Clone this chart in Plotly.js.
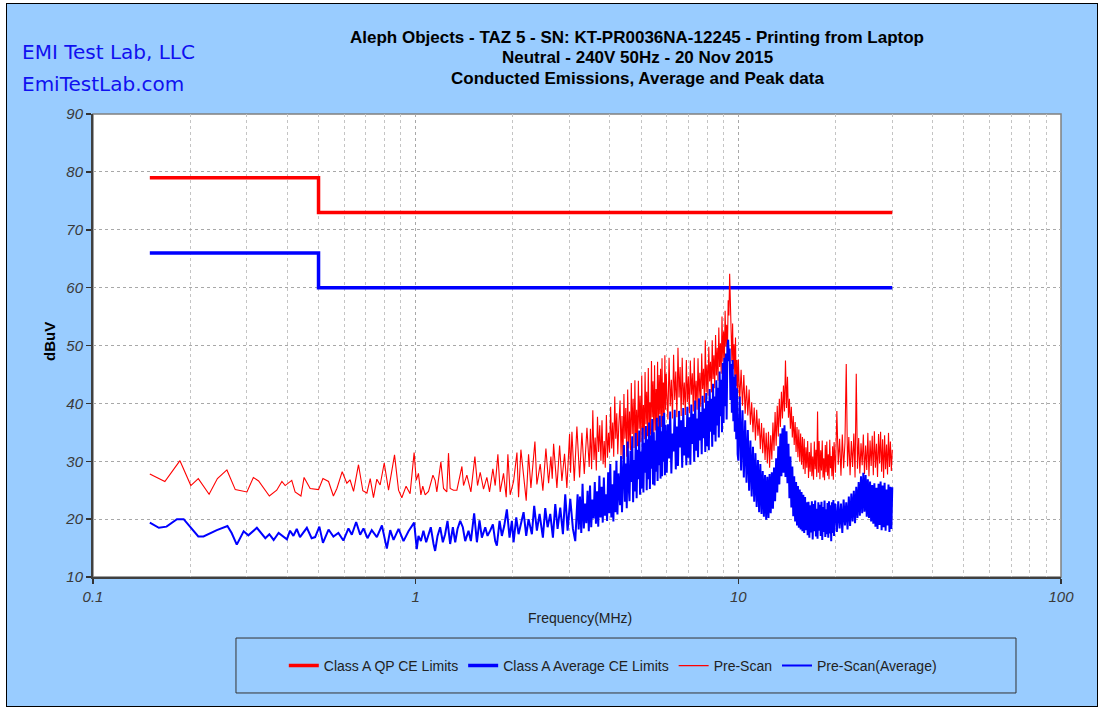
<!DOCTYPE html>
<html><head><meta charset="utf-8">
<script src="https://cdn.plot.ly/plotly-3.0.1.min.js"></script>
<style>
html,body{margin:0;padding:0;background:#fff;width:1098px;height:707px;overflow:hidden;}
#chart{position:absolute;left:6px;top:3px;width:1090px;height:702px;border:1px solid #000;}
</style></head><body><div id="chart"></div><script>
// ---- data (MHz, dBuV) ----
var limitFreq = [0.15, 0.5, 0.5, 30];
var qpLimit = [79, 79, 73, 73];
var avgLimit = [66, 66, 60, 60];

// 0.15 - 4.3 MHz, read point by point
var peakFreqA = [0.150,0.167,0.186,0.201,0.212,0.229,0.243,0.260,0.276,0.300,0.314,0.326,0.352,0.371,0.385,0.394,0.413,0.423,0.441,0.451,0.471,0.500,0.516,0.537,0.556,0.570,0.592,0.612,0.626,0.642,0.665,0.686,0.706,0.723,0.740,0.758,0.776,0.799,0.824,0.860,0.885,0.906,0.934,0.961,0.989,
1.004,1.020,1.038,1.052,1.070,1.096,1.131,1.149,1.163,1.197,1.220,1.249,1.264,1.279,1.310,1.342,1.391,1.407,1.441,1.483,1.526,1.555,1.585,1.623,1.662,1.694,1.735,1.764,1.798,1.828,1.872,1.908,1.931,1.963,2.011,2.060,2.084,2.119,2.170,2.201,2.238,2.276,2.342,2.375,2.432,2.479,2.533,2.582,2.625,2.650,2.676,2.740,2.793,2.839,2.893,2.942,2.999,3.020,3.050,3.101,3.160,3.221,3.275,3.331,3.395,
3.45,3.48,3.51,3.54,3.57,3.60,3.63,3.66,3.69,3.72,3.75,3.78,3.81,3.84,3.87,3.90,3.93,3.96,3.99,4.02,4.05,4.08,4.11,4.14,4.17,4.20,4.23,4.26];
var peakValA = [27.8,26.5,30.1,25.8,27.0,24.3,27.0,28.5,25.1,24.7,27.2,26.6,24.0,25.0,26.5,25.8,26.7,24.7,24.0,27.2,25.3,25.1,27.0,26.5,24.0,25.3,28.2,26.2,26.8,24.8,29.4,24.9,24.5,27.0,23.7,26.9,25.9,29.7,25.0,31.1,25.0,23.7,25.7,24.4,31.5,
26.7,27.9,24.2,25.7,24.2,24.8,27.6,26.7,24.7,29.9,25.3,24.7,31.4,25.3,25.0,25.0,29.1,25.8,27.6,24.7,30.8,25.8,28.1,25.2,27.2,24.7,28.7,25.8,31.2,24.7,27.9,23.8,31.2,24.2,26.5,31.5,23.8,32.0,26.0,23.2,31.2,25.4,33.4,26.0,29.5,24.9,32.2,26.2,30.8,27.0,33.0,25.4,32.7,26.6,31.3,25.4,34.7,28.0,35.1,26.6,36.0,27.2,34.9,27.8,35.8,
29.0,35.6,28.6,38.8,30.2,34.1,28.4,37.7,31.6,36.2,30.1,37.1,29.5,33.5,28.9,38.0,30.6,34.9,31.5,39.4,32.2,36.7,30.8,41.2,33.9,38.3,31.2,36.0];

var avgFreqA = [0.150,0.160,0.169,0.182,0.191,0.200,0.212,0.220,0.242,0.261,0.269,0.279,0.293,0.303,0.322,0.342,0.352,0.363,0.376,0.399,0.408,0.418,0.428,0.438,0.460,0.476,0.488,0.503,0.516,0.537,0.556,0.576,0.597,0.619,0.634,0.654,0.673,0.689,0.709,0.731,0.758,0.786,0.814,0.834,0.854,0.885,0.917,0.950,0.989,
1.008,1.020,1.038,1.057,1.078,1.096,1.114,1.136,1.149,1.169,1.191,1.214,1.234,1.255,1.279,1.304,1.326,1.348,1.374,1.400,1.424,1.458,1.483,1.518,1.548,1.577,1.604,1.643,1.670,1.702,1.735,1.764,1.785,1.820,1.850,1.881,1.917,1.954,1.987,2.011,2.050,2.084,2.119,2.160,2.201,2.238,2.292,2.330,2.375,2.421,2.479,2.521,2.564,2.613,2.663,2.708,2.753,2.806,2.860,2.908,2.957,3.014,3.072,3.123,3.176,
3.20,3.23,3.26,3.29,3.32,3.35,3.38,3.41,3.44,3.47,3.50,3.53,3.56,3.59,3.62,3.65,3.68,3.71,3.74,3.77,3.80,3.83,3.86,3.89,3.92,3.95,3.98,4.01,4.04,4.07,4.10,4.13,4.16,4.19,4.22,4.25];
var avgValA = [19.4,18.5,18.7,20.0,20.0,18.7,17.0,17.0,18.1,18.8,17.6,15.6,17.9,17.2,18.5,16.7,17.4,16.4,17.6,16.5,18.0,17.1,18.3,16.9,18.5,16.7,16.9,18.7,15.9,18.2,17.0,17.6,16.3,18.4,17.3,19.5,17.3,18.4,16.7,18.1,16.9,18.9,14.9,18.1,16.4,18.3,16.2,17.9,19.4,
14.8,17.1,16.2,18.0,16.0,17.4,18.6,15.7,14.5,17.1,18.6,16.0,17.4,19.7,15.7,18.6,16.0,18.3,19.7,18.6,16.2,18.0,16.2,21.0,16.0,19.8,16.8,18.6,17.1,18.0,19.1,16.2,15.4,19.7,17.1,18.8,21.7,16.8,19.7,16.0,20.3,17.4,19.1,21.2,17.1,20.0,17.4,22.3,18.0,20.9,16.8,21.9,18.6,20.9,16.8,22.6,18.3,22.0,17.4,24.3,18.0,23.5,18.3,16.2,24.3,
18.2,23.9,17.6,26.1,18.4,22.7,19.3,24.9,17.9,25.8,18.6,23.4,20.1,26.4,19.2,24.8,18.7,27.5,20.3,25.6,19.4,27.2,20.6,24.3,19.7,28.1,21.0,29.5,20.3,26.0,19.6,28.4,21.2,30.1,20.8,27.9];

// 4.3 - 30 MHz, dense sweep shared by both scans
var gridFreq = [4.30,4.33,4.36,4.39,4.42,4.45,4.48,4.51,4.54,4.57,4.60,4.63,4.66,4.69,4.72,4.75,4.78,4.81,4.84,4.87,4.90,4.93,4.96,4.99,5.02,5.05,5.08,5.11,5.14,5.17,5.20,5.23,5.26,5.29,5.32,5.35,5.38,5.41,5.44,5.47,5.50,5.53,5.56,5.59,5.62,5.65,5.68,5.71,5.74,5.77,5.80,5.83,5.86,5.89,5.92,5.95,5.98,
6.00,6.05,6.10,6.15,6.20,6.25,6.30,6.35,6.40,6.45,6.50,6.55,6.60,6.65,6.70,6.75,6.80,6.85,6.90,6.95,7.00,7.05,7.10,7.15,7.20,7.25,7.30,7.35,7.40,7.45,7.50,7.55,7.60,7.65,7.70,7.75,7.80,7.85,7.90,7.95,8.00,8.05,8.10,8.15,8.20,8.25,8.30,8.35,8.40,8.45,8.50,8.55,8.60,8.65,8.70,8.75,8.80,8.85,8.90,8.95,9.00,9.05,9.10,9.15,9.20,9.25,9.30,9.35,9.40,9.45,9.50,9.55,9.60,9.65,9.70,9.75,9.80,9.85,9.90,9.95,
10.0,10.1,10.2,10.3,10.4,10.5,10.6,10.7,10.8,10.9,11.0,11.1,11.2,11.3,11.4,11.5,11.6,11.7,11.8,11.9,12.0,12.1,12.2,12.3,12.4,12.5,12.6,12.7,12.8,12.9,13.0,13.1,13.2,13.3,13.4,13.5,13.6,13.7,13.8,13.9,14.0,14.1,14.2,14.3,14.4,14.5,14.6,14.7,14.8,14.9,15.0,15.1,15.2,15.3,15.4,15.5,15.6,15.7,15.8,15.9,16.0,16.1,16.2,16.3,16.4,16.5,16.6,16.7,16.8,16.9,17.0,17.1,17.2,17.3,17.4,17.5,17.6,17.7,17.8,17.9,18.0,18.1,18.2,18.3,18.4,18.5,18.6,18.7,18.8,18.9,19.0,19.1,19.2,19.3,19.4,19.5,19.6,19.7,19.8,19.9,
20.0,20.2,20.4,20.6,20.8,21.0,21.2,21.4,21.6,21.8,22.0,22.2,22.4,22.6,22.8,23.0,23.2,23.4,23.6,23.8,24.0,24.2,24.4,24.6,24.8,25.0,25.2,25.4,25.6,25.8,26.0,26.2,26.4,26.6,26.8,27.0,27.2,27.4,27.6,27.8,28.0,28.2,28.4,28.6,28.8,29.0,29.2,29.4,29.6,29.8,30.0];
var peakValB = [40.5,31.0,37.8,30.4,41.6,33.9,39.2,30.8,42.4,32.2,38.6,31.9,43.5,34.7,40.8,32.3,44.0,33.0,38.9,32.6,43.9,35.6,41.3,33.3,44.8,34.2,39.7,33.8,45.4,36.4,42.0,34.3,46.1,35.8,40.2,34.6,47.3,37.6,43.8,34.9,46.6,35.3,42.5,36.8,47.2,35.6,44.9,38.1,46.0,35.9,47.8,37.5,43.6,36.4,48.3,38.9,45.1,
42.3,37.2,47.9,39.5,44.1,37.4,48.4,40.6,45.5,37.6,49.6,41.0,46.3,37.8,47.9,39.7,43.6,38.0,47.5,40.2,44.7,38.3,47.4,41.5,45.2,38.6,47.9,39.8,43.9,38.9,47.8,40.9,45.3,39.4,48.6,42.5,46.0,40.1,50.9,41.9,46.7,41.3,49.8,43.8,47.2,41.9,50.9,44.2,48.3,42.6,51.8,44.8,49.6,43.9,53.1,46.3,50.4,45.1,55.0,47.2,52.4,47.5,56.0,49.8,53.6,48.4,57.8,55.2,62.4,56.0,52.7,47.3,53.8,45.9,50.2,44.6,51.4,43.0,47.5,41.2,
47.6,40.5,45.8,39.6,44.9,38.2,43.1,37.9,42.4,36.3,40.2,35.0,39.3,33.6,38.9,34.4,37.4,32.1,36.6,31.4,35.8,30.2,34.9,29.6,35.1,28.9,34.5,30.3,36.7,31.8,38.5,32.7,39.6,34.3,40.8,35.9,42.0,37.4,43.1,38.6,47.4,39.2,44.6,37.5,40.8,35.6,39.4,34.1,37.8,32.8,36.8,31.6,35.9,30.7,35.5,29.9,34.8,29.4,34.2,28.6,33.9,27.8,32.4,28.9,33.5,27.1,31.6,28.2,33.2,27.4,30.8,26.8,33.4,28.6,32.0,27.3,38.6,28.0,33.5,26.9,31.9,28.4,33.6,27.2,30.5,26.7,32.8,28.1,33.4,27.5,31.2,26.9,33.7,28.8,30.9,27.4,32.6,26.8,33.3,28.2,
28.0,38.7,29.4,33.9,27.5,34.6,28.8,33.2,46.8,29.1,34.2,27.6,33.5,29.0,34.8,27.2,45.1,28.7,34.0,27.9,33.1,29.3,34.6,27.8,32.7,28.5,34.9,27.4,33.6,29.2,34.4,27.6,35.2,28.9,33.0,27.3,34.7,29.6,35.1,28.2,33.8,27.1,34.5,28.6,32.9,27.7,34.9,29.0,33.4,28.3,32.0];
var avgValB = [22.4,30.9,21.2,27.5,32.8,23.0,29.6,21.9,33.4,25.8,23.1,31.8,26.4,34.3,22.9,30.2,24.8,34.9,23.6,32.0,26.9,35.3,24.2,31.7,25.3,35.8,24.6,33.2,28.0,36.1,25.0,33.8,26.9,36.7,25.2,34.5,28.7,37.3,26.0,35.0,25.8,33.6,28.2,37.5,26.6,36.0,29.3,37.9,27.0,35.2,27.4,37.8,29.9,38.4,27.6,36.3,30.5,
28.0,36.4,30.5,38.6,27.9,34.8,31.7,38.9,28.6,36.0,29.2,38.7,32.4,37.1,28.9,39.2,31.0,35.9,29.3,39.4,30.6,37.6,29.4,39.8,33.0,38.2,29.9,40.5,31.8,37.4,30.7,40.9,33.6,38.5,31.2,41.3,34.0,39.1,31.6,41.8,32.6,40.4,31.9,42.5,35.1,40.8,32.5,43.4,34.6,41.2,33.4,44.0,36.2,42.7,34.1,45.5,37.8,44.1,35.0,47.0,36.6,47.9,39.5,48.6,37.2,49.8,51.0,47.3,49.5,40.6,46.8,38.4,47.5,36.9,44.6,35.1,45.0,33.8,42.6,31.2,
30.1,41.2,28.4,38.8,27.2,37.1,26.3,35.4,24.9,33.6,23.9,32.5,23.0,31.4,22.1,30.2,21.2,29.5,20.9,28.3,20.4,27.6,19.9,27.3,20.2,27.8,21.0,28.1,21.8,28.9,23.1,30.5,24.6,32.6,26.0,34.8,27.4,35.7,28.0,36.2,27.3,35.2,26.2,33.0,23.6,30.8,22.0,29.1,20.5,27.4,19.6,26.4,18.9,25.7,18.5,25.1,18.2,24.7,17.9,24.2,17.6,23.8,18.1,22.9,17.2,23.0,16.8,22.4,17.7,23.1,16.5,22.6,17.9,23.2,17.0,21.8,16.6,22.9,18.0,22.5,17.1,23.0,16.4,22.1,17.8,23.2,16.9,21.7,17.4,22.8,16.8,23.1,17.5,22.4,16.2,22.9,17.6,23.3,17.1,22.6,
22.5,17.8,23.1,18.4,22.7,17.6,23.4,18.9,22.9,18.2,23.9,18.8,24.4,19.6,24.9,19.3,25.6,20.2,26.4,20.6,27.4,21.0,28.0,21.3,27.6,20.4,26.9,20.2,26.5,19.6,25.9,19.2,26.2,18.7,25.4,18.3,26.1,19.0,26.5,18.1,25.8,18.6,26.3,18.0,25.1,18.9,26.0,17.8,25.6,18.3,25.5];

var xTickVals = [0.1, 1, 10, 100];
var xTickText = ['0.1', '1', '10', '100'];
var xMinorVals = [0.2,0.3,0.4,0.5,0.6,0.7,0.8,0.9,2,3,4,5,6,7,8,9,20,30,40,50,60,70,80,90];
var seriesNames = ['Class A QP CE Limits', 'Class A Average CE Limits', 'Pre-Scan', 'Pre-Scan(Average)'];
var titleLines = ['Aleph Objects - TAZ 5 - SN: KT-PR0036NA-12245 - Printing from Laptop', 'Neutral - 240V 50Hz - 20 Nov 2015', 'Conducted Emissions, Average and Peak data'];

// ---- chart ----
var ARIAL = 'Liberation Sans, Arial, sans-serif';
var traces = [
  {x: limitFreq, y: qpLimit, type: 'scatter', mode: 'lines', name: seriesNames[0], line: {color: '#ff0000', width: 3.5}},
  {x: limitFreq, y: avgLimit, type: 'scatter', mode: 'lines', name: seriesNames[1], line: {color: '#0000ff', width: 3.5}},
  {x: peakFreqA.concat(gridFreq), y: peakValA.concat(peakValB), type: 'scatter', mode: 'lines', name: seriesNames[2], line: {color: '#ff0000', width: 1.1}},
  {x: avgFreqA.concat(gridFreq), y: avgValA.concat(avgValB), type: 'scatter', mode: 'lines', name: seriesNames[3], line: {color: '#0000ff', width: 2}}
];
var tickFont = {family: ARIAL, size: 15, color: '#3a3a3a', style: 'italic'};
var layout = {
  width: 1090, height: 702,
  margin: {l: 86, r: 36, t: 110, b: 129, pad: 0},
  paper_bgcolor: '#99ccff', plot_bgcolor: '#ffffff',
  showlegend: true,
  legend: {orientation: 'h', x: 0.537, y: -0.1922, xanchor: 'center', yanchor: 'middle',
           bgcolor: 'rgba(0,0,0,0)', borderwidth: 0, traceorder: 'normal',
           font: {family: ARIAL, size: 14, color: '#222'}},
  xaxis: {type: 'log', range: [-1, 2], tickmode: 'array', tickvals: xTickVals, ticktext: xTickText,
          ticks: 'outside', ticklen: 5, tickwidth: 1.5, tickcolor: '#333', tickfont: tickFont,
          showline: true, linecolor: '#404040', linewidth: 2, mirror: false,
          showgrid: true, gridcolor: '#a8a8a8', griddash: 'dot', gridwidth: 1, zeroline: false,
          minor: {tickmode: 'array', tickvals: xMinorVals, showgrid: true, gridcolor: '#c4c4c4', griddash: 'dot', gridwidth: 1, ticks: ''},
          fixedrange: true},
  yaxis: {range: [10, 90], tick0: 10, dtick: 10, ticks: 'outside', ticklen: 5, tickwidth: 1.5, tickcolor: '#333', tickfont: tickFont,
          showline: true, linecolor: '#404040', linewidth: 2, mirror: false,
          showgrid: true, gridcolor: '#a8a8a8', griddash: 'dot', gridwidth: 1, zeroline: false, fixedrange: true},
  shapes: [
    {type: 'rect', xref: 'paper', yref: 'paper', x0: 0, x1: 1, y0: 0, y1: 1, line: {color: '#808080', width: 1.5}, layer: 'below'},
    {type: 'rect', xref: 'paper', yref: 'paper', x0: 0.1477, x1: 0.9535, y0: -0.2505, y1: -0.1318, line: {color: '#333', width: 1}, fillcolor: 'rgba(0,0,0,0)'}
  ],
  annotations: [
    {text: '<b>' + titleLines[0] + '</b>', xref: 'paper', yref: 'paper', x: 0.562, y: 1.166, xanchor: 'center', yanchor: 'middle', showarrow: false, font: {family: ARIAL, size: 17, color: '#000'}},
    {text: '<b>' + titleLines[1] + '</b>', xref: 'paper', yref: 'paper', x: 0.562, y: 1.121, xanchor: 'center', yanchor: 'middle', showarrow: false, font: {family: ARIAL, size: 17, color: '#000'}},
    {text: '<b>' + titleLines[2] + '</b>', xref: 'paper', yref: 'paper', x: 0.562, y: 1.0756, xanchor: 'center', yanchor: 'middle', showarrow: false, font: {family: ARIAL, size: 17, color: '#000'}},
    {text: 'EMI Test Lab, LLC', xref: 'paper', yref: 'paper', x: -0.0754, y: 1.134, xanchor: 'left', yanchor: 'middle', showarrow: false, font: {family: 'DejaVu Sans', size: 20, color: '#1010f0'}},
    {text: 'EmiTestLab.com', xref: 'paper', yref: 'paper', x: -0.0754, y: 1.065, xanchor: 'left', yanchor: 'middle', showarrow: false, font: {family: 'DejaVu Sans', size: 20, color: '#1010f0'}},
    {text: '<b>dBuV</b>', xref: 'paper', yref: 'paper', x: -0.0444, y: 0.5076, xanchor: 'center', yanchor: 'middle', textangle: -90, showarrow: false, font: {family: ARIAL, size: 15, color: '#000'}},
    {text: 'Frequency(MHz)', xref: 'paper', yref: 'paper', x: 0.503, y: -0.0886, xanchor: 'center', yanchor: 'middle', showarrow: false, font: {family: ARIAL, size: 14, color: '#222'}}
  ]
};
Plotly.newPlot('chart', traces, layout, {displayModeBar: false, staticPlot: true});
</script></body></html>
